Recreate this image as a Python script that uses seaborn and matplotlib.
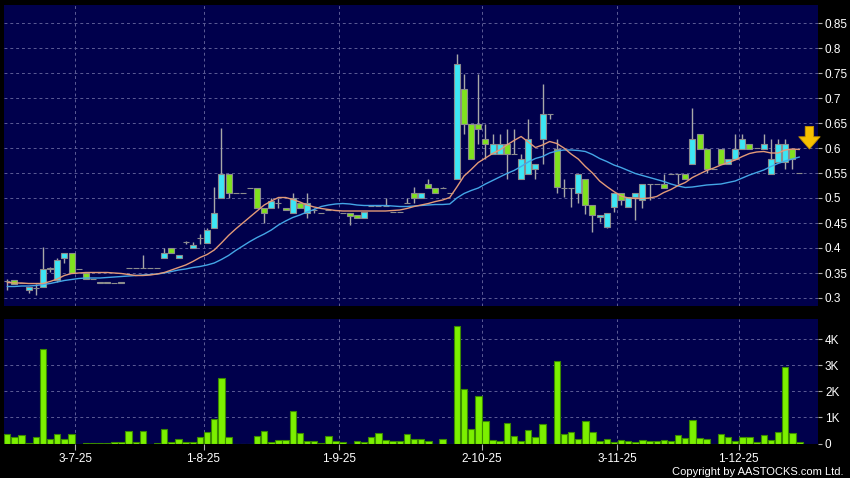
import numpy as np
import pandas as pd
import matplotlib
matplotlib.use('Agg')
import matplotlib.pyplot as plt
import seaborn as sns

# ---------------- data ----------------
opens = [.335, .337, .330, .317, .320, .323, .361, .337, .381, .391,
         .358, .350, .339, .330, .332, .331, .330, .361, .361, .361,
         .361, .361, .381, .401, .381, .412, .401, .421, .411, .441,
         .501, .549, .511, .511, .521, .521, .481, .481, .490, .481,
         .471, .491, .471, .476, .471, .476, .476, .471, .471, .467,
         .461, .484, .484, .484, .473, .473, .491, .511, .501, .529,
         .521, .521, .511, .539, .719, .649, .649, .619, .589, .589,
         .609, .589, .539, .549, .559, .619, .669, .599, .521, .521,
         .511, .539, .486, .463, .443, .483, .511, .483, .503, .497,
         .529, .529, .529, .549, .549, .549, .569, .629, .599, .559,
         .599, .569, .579, .599, .609, .600, .599, .549, .572, .572,
         .599, .550]
highs = [.339, .337, .330, .323, .329, .402, .362, .381, .391, .391,
         .358, .350, .339, .332, .332, .331, .332, .361, .361, .387,
         .361, .361, .401, .401, .387, .415, .412, .429, .441, .522,
         .641, .549, .511, .511, .521, .521, .481, .501, .501, .481,
         .511, .491, .511, .481, .471, .476, .476, .471, .471, .467,
         .473, .484, .484, .501, .473, .473, .501, .523, .511, .539,
         .521, .523, .511, .788, .749, .649, .749, .649, .629, .629,
         .639, .639, .589, .659, .569, .729, .669, .619, .539, .521,
         .549, .539, .486, .466, .471, .511, .511, .503, .511, .529,
         .529, .529, .549, .549, .549, .549, .681, .629, .599, .559,
         .599, .579, .629, .629, .609, .600, .629, .619, .619, .619,
         .599, .550]
lows = [.316, .328, .330, .311, .306, .323, .353, .333, .371, .351,
        .358, .339, .339, .330, .330, .331, .330, .361, .361, .361,
        .361, .361, .381, .391, .381, .409, .401, .409, .411, .441,
        .501, .501, .511, .511, .521, .481, .451, .481, .481, .476,
        .471, .481, .461, .471, .471, .476, .476, .471, .446, .461,
        .461, .484, .484, .484, .473, .473, .491, .491, .501, .521,
        .511, .521, .511, .539, .629, .579, .609, .579, .589, .589,
        .539, .589, .539, .549, .539, .569, .659, .511, .503, .483,
        .491, .469, .433, .453, .441, .473, .486, .483, .456, .481,
        .496, .529, .521, .549, .529, .539, .569, .599, .551, .559,
        .569, .569, .579, .599, .599, .600, .599, .549, .572, .559,
        .559, .550]
closes = [.335, .328, .330, .323, .320, .358, .358, .377, .391, .351,
          .358, .339, .339, .332, .330, .331, .332, .361, .361, .361,
          .361, .361, .391, .391, .387, .412, .407, .421, .436, .471,
          .549, .511, .511, .511, .521, .481, .471, .495, .490, .476,
          .501, .481, .491, .476, .471, .476, .476, .471, .465, .461,
          .473, .484, .484, .484, .473, .473, .491, .501, .511, .521,
          .511, .521, .511, .768, .649, .579, .639, .609, .609, .609,
          .589, .589, .579, .619, .569, .669, .669, .523, .521, .521,
          .549, .486, .466, .466, .471, .511, .496, .503, .511, .529,
          .529, .529, .521, .549, .549, .539, .619, .599, .559, .559,
          .569, .579, .599, .619, .599, .600, .609, .579, .609, .609,
          .579, .550]
volumes_k = [.36, .24, .32, .03, .24, 3.62, .19, .37, .17, .36,
             .00, .01, .01, .01, .01, .04, .04, .47, .04, .47,
             .00, .01, .55, .04, .19, .06, .04, .24, .45, .94,
             2.53, .26, .00, .00, .00, .29, .49, .04, .12, .15,
             1.23, .42, .08, .08, .01, .29, .08, .04, .00, .10,
             .04, .24, .40, .15, .10, .08, .35, .17, .19, .09,
             .00, .17, .00, 4.53, 2.09, .54, 1.82, .86, .15, .10,
             .79, .29, .10, .50, .26, .76, .00, 3.17, .37, .46,
             .19, .88, .44, .09, .17, .05, .15, .08, .05, .13,
             .10, .09, .13, .09, .31, .23, .92, .23, .17, .00,
             .35, .24, .09, .24, .24, .04, .33, .12, .45, 2.92,
             .41, .04]
ma_short = [.331, .330, .330, .329, .329, .329, .333, .338, .345, .349,
            .350, .351, .351, .351, .351, .350, .349, .347, .345, .345,
            .346, .348, .351, .356, .361, .366, .373, .381, .387, .396,
            .410, .425, .438, .450, .462, .474, .486, .494, .501, .501,
            .497, .492, .486, .482, .479, .477, .475, .474, .474, .474,
            .474, .474, .474, .474, .475, .476, .479, .483, .486, .489,
            .493, .496, .501, .522, .544, .557, .571, .580, .589, .596,
            .606, .615, .623, .612, .601, .606, .613, .609, .600, .588,
            .578, .563, .550, .534, .523, .513, .504, .500, .499, .499,
            .500, .503, .511, .517, .525, .531, .541, .548, .555, .560,
            .566, .571, .576, .583, .589, .592, .593, .590, .590, .596,
            .598, .597]
ma_long = [.323, .323, .324, .324, .325, .327, .329, .332, .335, .337,
           .339, .340, .340, .340, .341, .342, .343, .344, .345, .346,
           .347, .348, .350, .353, .356, .358, .361, .363, .366, .370,
           .377, .385, .395, .404, .413, .421, .428, .436, .446, .454,
           .461, .466, .472, .477, .483, .486, .488, .489, .488, .486,
           .485, .485, .485, .485, .484, .483, .483, .484, .485, .486,
           .487, .487, .488, .500, .509, .515, .520, .528, .535, .542,
           .549, .555, .563, .572, .579, .583, .590, .594, .596, .596,
           .595, .593, .587, .579, .573, .566, .561, .555, .549, .545,
           .541, .537, .533, .528, .524, .521, .522, .524, .526, .527,
           .528, .531, .534, .540, .546, .551, .556, .563, .569, .574,
           .578, .582]
date_tick_pos = [9.5, 27.5, 46.5, 66.5, 85.5, 102.5]
date_tick_labels = ['3-7-25', '1-8-25', '1-9-25', '2-10-25', '3-11-25', '1-12-25']
price_ticks = [0.30, 0.35, 0.40, 0.45, 0.50, 0.55, 0.60, 0.65, 0.70, 0.75, 0.80, 0.85]
price_tick_labels = ['0.3', '0.35', '0.4', '0.45', '0.5', '0.55', '0.6', '0.65', '0.7', '0.75', '0.8', '0.85']
vol_ticks = [0, 1, 2, 3, 4]
vol_tick_labels = ['0', '1K', '2K', '3K', '4K']

# ---------------- styling ----------------
sns.set_theme(style='dark')
plt.rcParams['font.family'] = ['Liberation Sans Narrow', 'Liberation Sans', 'DejaVu Sans']

NAVY = '#00004c'
GRID = '#5c5c96'
CYAN = '#3de6f5'
GREEN = '#80e21e'
WICK = '#a8a8a8'

o = np.array(opens); h = np.array(highs); l = np.array(lows); c = np.array(closes)
idx = np.arange(len(o))

fig = plt.figure(figsize=(8.5, 4.78), dpi=100, facecolor='black')
ax = fig.add_axes([4/850, (478-306)/478, (818-4)/850, (306-5)/478])
axv = fig.add_axes([4/850, (478-443.5)/478, (818-4)/850, (443.5-319)/478])

for a in (ax, axv):
    a.set_facecolor(NAVY)
    for s in a.spines.values():
        s.set_visible(False)
    a.set_xlim(-0.46, 113.6)

# ---- price panel ----
ax.vlines(idx, l, h, color=WICK, lw=1.0, zorder=2)
up = c > o
down = c < o
body_colors = np.where(up, CYAN, np.where(down, GREEN, WICK))
ax.bar(idx, np.abs(c - o), bottom=np.minimum(o, c), width=0.84,
       color=body_colors, edgecolor='#8c8c8c', linewidth=0.8, zorder=3)

ma_df = pd.DataFrame({'k': idx, 'short': ma_short, 'long': ma_long})
sns.lineplot(data=ma_df, x='k', y='long', ax=ax, color='#44a6e6', lw=1.0, zorder=4)
sns.lineplot(data=ma_df, x='k', y='short', ax=ax, color='#e39a78', lw=1.0, zorder=4)

ax.set_ylim(0.284, 0.886)
ax.set_yticks(price_ticks)
ax.set_yticklabels(price_tick_labels)
ax.set_xticks(date_tick_pos)
ax.set_xticklabels([])
ax.yaxis.tick_right()
ax.tick_params(axis='y', which='both', right=True, left=False, direction='out', length=3,
               width=0.8, color='#b0b0b0', labelcolor='white', labelsize=8.5, pad=2)
ax.tick_params(axis='x', length=0)
ax.grid(True, color=GRID, linestyle=(0, (3, 3)), linewidth=0.7)
ax.set_xlabel('')
ax.set_ylabel('')

ax.annotate('', xy=(112.4, 0.598), xytext=(112.4, 0.643),
            arrowprops=dict(arrowstyle='simple,head_length=0.8,head_width=1.4,tail_width=0.55',
                            fc='#f6c000', ec='#c89400', lw=0.6, mutation_scale=11,
                            shrinkA=0, shrinkB=0), zorder=6)

# ---- volume panel ----
vol_df = pd.DataFrame({'k': idx, 'vol': volumes_k})
sns.barplot(data=vol_df, x='k', y='vol', ax=axv, native_scale=True, width=0.9,
            color='#7cf000', saturation=1, edgecolor='#3a8a00', linewidth=0.8, zorder=3)
axv.set_ylim(0, 4.78)
axv.set_yticks(vol_ticks)
axv.set_yticklabels(vol_tick_labels)
axv.yaxis.tick_right()
axv.set_xticks(date_tick_pos)
axv.set_xticklabels(date_tick_labels)
axv.set_xlim(-0.46, 113.6)
axv.tick_params(axis='y', which='both', right=True, left=False, direction='out', length=3,
                width=0.8, color='#b0b0b0', labelcolor='white', labelsize=8.5, pad=2)
axv.tick_params(axis='x', bottom=True, direction='out', length=4, width=0.8,
                color='#b0b0b0', labelcolor='white', labelsize=8.5, pad=3)
axv.grid(True, color=GRID, linestyle=(0, (3, 3)), linewidth=0.7)
axv.set_xlabel('')
axv.set_ylabel('')

fig.text(843/850, 1 - 472/478, 'Copyright by AASTOCKS.com Ltd.', ha='right', va='center',
         color='white', fontsize=8)

fig.savefig('out.png', dpi=100, facecolor='black')
